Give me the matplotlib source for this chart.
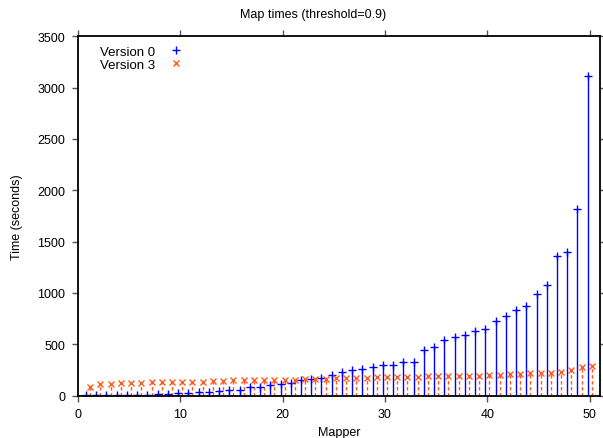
import numpy as np
import matplotlib.pyplot as plt

plt.rcParams['font.family'] = ['Liberation Sans', 'DejaVu Sans']
plt.rcParams['font.size'] = 9

# map times per mapper, in seconds
mappers = np.arange(1, 51)
version0 = [3, 4, 6, 7, 8, 10, 11, 14, 18, 25,
            30, 34, 39, 42, 55, 58, 81, 88, 104, 117,
            120, 156, 159, 172, 198, 231, 247, 256, 280, 302,
            302, 328, 331, 448, 472, 542, 568, 594, 627, 653,
            727, 773, 831, 870, 990, 1081, 1357, 1396, 1818, 3117]
version3 = [81, 114, 114, 123, 123, 123, 130, 130, 130, 130,
            130, 132, 146, 146, 149, 149, 152, 156, 156, 156,
            156, 158, 162, 166, 168, 168, 170, 175, 177, 182,
            182, 184, 185, 188, 192, 195, 195, 195, 196, 201,
            205, 208, 210, 224, 221, 224, 234, 247, 282, 289]

blue = '#0000ff'
orange = '#ff5a1e'

fig = plt.figure(figsize=(6.03, 4.39), dpi=100)
ax = fig.add_axes([0.129, 0.0965, 0.866, 0.8185])

x0 = mappers - 0.2
x3 = mappers + 0.2
ax.vlines(x0, 0, version0, color=blue, lw=1.0)
ax.vlines(x3, 0, version3, color=orange, lw=1.0, linestyles=(0, (2.5, 1.8)))
ax.plot(x0, version0, '+', color=blue, ms=5.5, mew=1.0, label='Version 0')
ax.plot(x3, version3, 'x', color=orange, ms=4.8, mew=1.0, label='Version 3')

ax.set_xlim(0, 51)
ax.set_ylim(0, 3500)
ax.set_xticks(range(0, 51, 10))
ax.set_yticks(range(0, 3501, 500))
ax.tick_params(direction='out', length=4, width=1, top=True, right=True,
               color='#555555', pad=5)
for s in ax.spines.values():
    s.set_linewidth(1.3)

ax.set_xlabel('Mapper', labelpad=4)
ax.set_ylabel('Time (seconds)', labelpad=10)
fig.text(0.52, 0.965, 'Map times (threshold=0.9)', ha='center', va='center')

ax.legend(loc='upper left', bbox_to_anchor=(0.025, 1.0), frameon=False,
          markerfirst=False, handlelength=1.5, handletextpad=0.8,
          labelspacing=0.05, borderaxespad=0.3, fontsize=9.5)

fig.savefig('out.png', dpi=100)
